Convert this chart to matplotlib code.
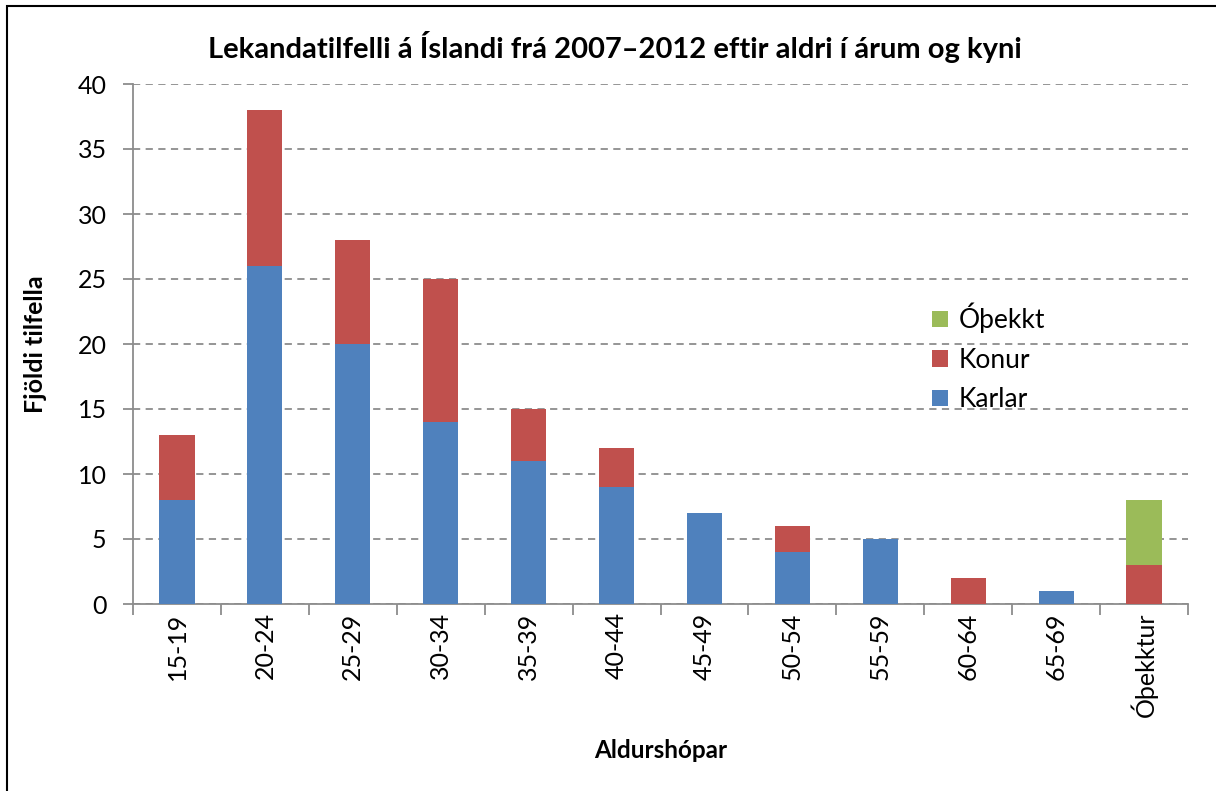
import matplotlib
matplotlib.use("Agg")
import matplotlib.pyplot as plt
from matplotlib.patches import Rectangle
import numpy as np

plt.rcParams['font.family'] = ['Lato', 'DejaVu Sans']

# age groups and case counts
aldurshopar = ['15-19', '20-24', '25-29', '30-34', '35-39', '40-44',
               '45-49', '50-54', '55-59', '60-64', '65-69', 'Óþekktur']
karlar = [8, 26, 20, 14, 11, 9, 7, 4, 5, 0, 1, 0]
konur = [5, 12, 8, 11, 4, 3, 0, 2, 0, 2, 0, 3]
othekkt = [0, 0, 0, 0, 0, 0, 0, 0, 0, 0, 0, 5]

blue = '#4F81BD'
red = '#C0504D'
green = '#9BBB59'

fig = plt.figure(figsize=(12.16, 7.91), dpi=100)
ax = fig.add_axes([133/1216, 1 - 604/791, (1188 - 133)/1216, (604 - 84)/791])

x = np.arange(len(aldurshopar))
w = 0.4
b1 = ax.bar(x, karlar, w, color=blue, label='Karlar', zorder=3)
b2 = ax.bar(x, konur, w, bottom=karlar, color=red, label='Konur', zorder=3)
bottom2 = np.array(karlar) + np.array(konur)
b3 = ax.bar(x, othekkt, w, bottom=bottom2, color=green, label='Óþekkt', zorder=3)

ax.set_xlim(-0.5, len(aldurshopar) - 0.5)
ax.set_ylim(0, 40)
ax.set_yticks(range(0, 41, 5))
ax.yaxis.grid(True, linestyle=(0, (4, 3)), color='#8c8c8c', linewidth=1.3, zorder=0)
ax.tick_params(axis='y', labelsize=18, length=7, color='#8c8c8c', width=1.3, pad=12)

# category labels between tick marks
ax.set_xticks(x)
ax.set_xticklabels(aldurshopar, rotation=90, fontsize=18)
ax.tick_params(axis='x', which='major', length=0, pad=6)
ax.set_xticks(np.arange(-0.5, len(aldurshopar)), minor=True)
ax.tick_params(axis='x', which='minor', length=8, color='#8c8c8c', width=1.3)

for s in ['top', 'right']:
    ax.spines[s].set_visible(False)
for s in ['left', 'bottom']:
    ax.spines[s].set_color('#8c8c8c')
    ax.spines[s].set_linewidth(1.3)

ax.set_xlabel('Aldurshópar', fontsize=17.5, fontweight='bold', labelpad=16)
ax.set_ylabel('Fjöldi tilfella', fontsize=18, fontweight='bold', labelpad=22)
fig.text(615/1216, 1 - 47/791, 'Lekandatilfelli á Íslandi frá 2007–2012 eftir aldri í árum og kyni',
         ha='center', va='center', fontsize=21, fontweight='bold')

ax.legend(handles=[b3, b2, b1], loc='upper left', bbox_to_anchor=(0.735, 0.625),
          frameon=False, fontsize=19, handlelength=0.6, handleheight=0.6,
          handletextpad=0.4, labelspacing=0.55)

fig.patches.append(Rectangle((7/1216, -0.1), 1.2, 1 - 6/791 + 0.1, transform=fig.transFigure,
                             fill=False, edgecolor='black', linewidth=1.5))

fig.savefig('out.png', dpi=100)
